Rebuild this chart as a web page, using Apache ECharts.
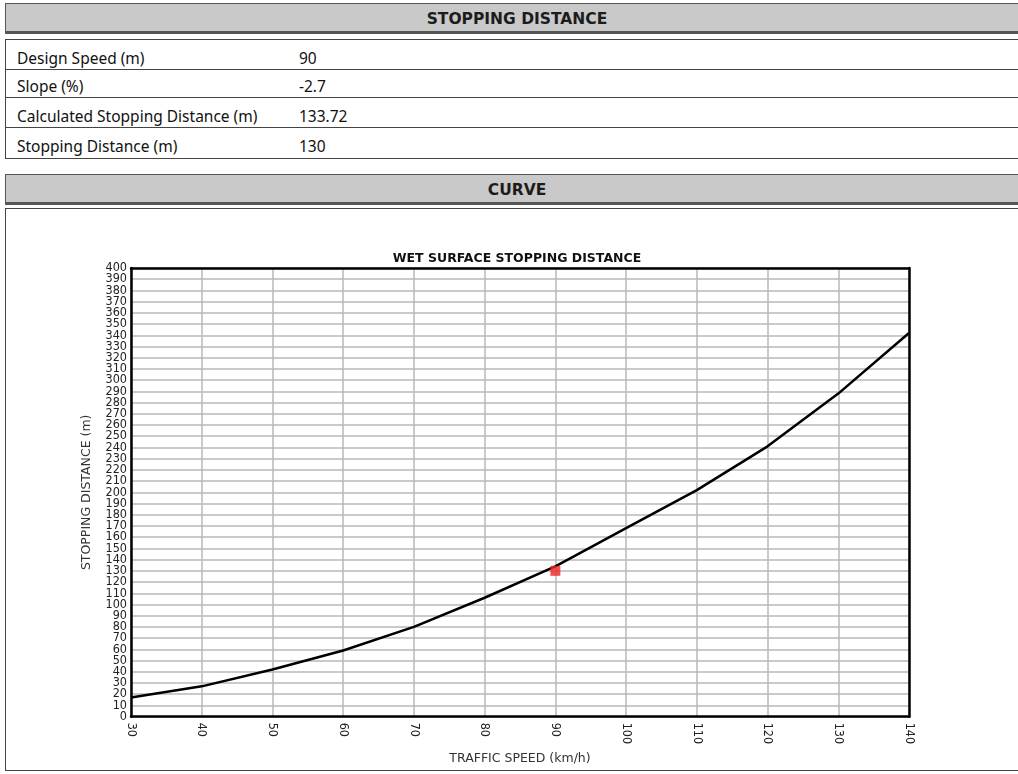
<!DOCTYPE html>
<html>
<head>
<meta charset="utf-8">
<script src="https://cdn.jsdelivr.net/npm/echarts@6/dist/echarts.min.js"></script>
<style>
  html, body { margin: 0; padding: 0; background: #fff; width: 1018px; height: 774px; overflow: hidden; }
  .hdr { position: absolute; left: 5px; width: 1022px; height: 27px; background: #c9c9c9;
         border: 1px solid #555; border-bottom: 3px solid #555; text-align: center;
         font-family: "DejaVu Sans", sans-serif; font-weight: bold; font-size: 15.5px; line-height: 30px; color: #1c1c1c; }
  #tbl { position: absolute; left: 5px; top: 39px; width: 1022px; height: 118px; border: 1.5px solid #444; }
  .row { position: absolute; left: 0; width: 100%; border-bottom: 1px solid #444;
         font-family: "Noto Sans", sans-serif; font-size: 15.5px; color: #111; }
  .row span { position: absolute; bottom: 0px; }
  #chartBox { position: absolute; left: 5px; top: 208px; width: 1022px; height: 561px; border: 1.5px solid #444; }
  #chart { position: absolute; left: 0; top: 0; width: 1022px; height: 561px; }
</style>
</head>
<body>
<div class="hdr" style="top:3px;">STOPPING DISTANCE</div>
<div id="tbl"></div>
<div class="hdr" style="top:174px;">CURVE</div>
<div id="chartBox"><div id="chart"></div></div>
<script>
// Table data
const tableLabels = ["Design Speed (m)", "Slope (%)", "Calculated Stopping Distance (m)", "Stopping Distance (m)"];
const tableValues = ["90", "-2.7", "133.72", "130"];

// Chart data
const speeds = [30, 40, 50, 60, 70, 80, 90, 100, 110, 120, 130, 140];
const stoppingDistance = [17, 27, 42, 59, 80, 106, 134, 168, 202, 241, 288, 342];
const designPoint = [[90, 130]];
const yMin = 0, yMax = 400, yStep = 10;

// Build table
const rowTops = [0, 30, 58, 88];
const rowHeights = [30, 28, 30, 30];
const tbl = document.getElementById('tbl');
tableLabels.forEach((lab, i) => {
  const r = document.createElement('div');
  r.className = 'row';
  r.style.top = rowTops[i] + 'px';
  r.style.height = (rowHeights[i] - 1) + 'px';
  if (i === tableLabels.length - 1) r.style.borderBottom = 'none';
  r.innerHTML = '<span style="left:11px">' + lab + '</span><span style="left:293px">' + tableValues[i] + '</span>';
  tbl.appendChild(r);
});

const labelFont = { fontFamily: 'DejaVu Sans Condensed', fontSize: 12.5, color: '#222' };
const frameAxis = {
  axisLine: { show: true, onZero: false, lineStyle: { color: '#000', width: 2.5 } },
  axisTick: { show: false }, axisLabel: { show: false }, splitLine: { show: false }
};

const chart = echarts.init(document.getElementById('chart'));
chart.setOption({
  animation: false,
  title: {
    text: 'WET SURFACE STOPPING DISTANCE',
    left: 506, top: 38, textAlign: 'center',
    textStyle: { fontFamily: 'DejaVu Sans', fontWeight: 'bold', fontSize: 12.5, color: '#111' }
  },
  grid: { left: 125, top: 59, right: 119, bottom: 40 },
  xAxis: [{
    type: 'value', min: 30, max: 140, interval: 10,
    name: 'TRAFFIC SPEED (km/h)', nameLocation: 'middle', nameGap: 31,
    nameTextStyle: { fontFamily: 'DejaVu Sans', fontSize: 12.5, color: '#333' },
    axisLine: { show: true, onZero: false, lineStyle: { color: '#000', width: 2.5 } },
    axisTick: { show: false },
    axisLabel: Object.assign({ rotate: -90, margin: 6, showMinLabel: true, showMaxLabel: true }, labelFont),
    splitLine: { show: true, lineStyle: { color: '#b8b8b8', width: 1.5 } },
    z: 0
  }, Object.assign({ type: 'value', min: 30, max: 140, position: 'top', z: 5 }, frameAxis)],
  yAxis: [{
    // odd multiples of 10 labelled here
    type: 'value', min: yMin, max: yMax, interval: yStep,
    name: 'STOPPING DISTANCE (m)', nameLocation: 'middle', nameGap: 38,
    nameTextStyle: { fontFamily: 'DejaVu Sans', fontSize: 12.5, color: '#333' },
    axisLine: { show: true, onZero: false, lineStyle: { color: '#000', width: 2.5 } },
    axisTick: { show: false },
    axisLabel: Object.assign({ margin: 4, lineHeight: 10,
      formatter: v => (Math.round(v / yStep) % 2 === 1 ? String(v) : '') }, labelFont),
    splitLine: { show: true, lineStyle: { color: '#b8b8b8', width: 1.5 } },
    z: 0
  }, {
    // even multiples of 10 labelled here
    type: 'value', min: yMin, max: yMax, interval: yStep * 2, position: 'left',
    axisLine: { show: false, onZero: false }, axisTick: { show: false }, splitLine: { show: false },
    axisLabel: Object.assign({ margin: 4, lineHeight: 10, showMinLabel: true, showMaxLabel: true }, labelFont),
    z: 0
  }, Object.assign({ type: 'value', min: yMin, max: yMax, position: 'right', z: 5 }, frameAxis)],
  series: [
    {
      type: 'line',
      data: speeds.map((s, i) => [s, stoppingDistance[i]]),
      showSymbol: false,
      lineStyle: { color: '#000', width: 2.5 },
      z: 3
    },
    {
      type: 'scatter',
      data: designPoint,
      symbol: 'rect', symbolSize: 10,
      itemStyle: { color: '#f02424' },
      z: 4
    }
  ]
});
</script>
</body>
</html>
